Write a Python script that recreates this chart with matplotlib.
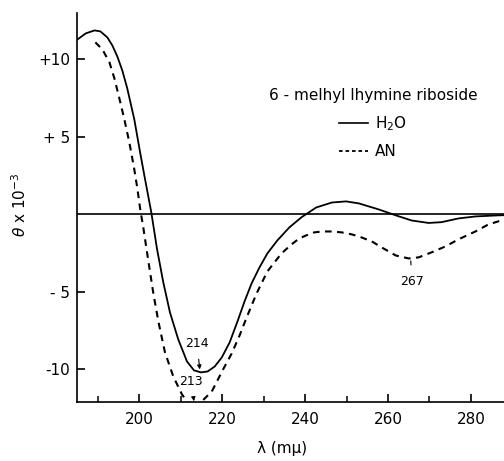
import numpy as np
import matplotlib
matplotlib.use('Agg')
import matplotlib.pyplot as plt
from matplotlib.lines import Line2D

# wavelength (m-mu) and theta x 10^-3
h2o_wl = [185.1, 187.1, 189.2, 190.6, 192.3, 193.5, 194.7, 195.9, 197.1, 198.8,
          200.2, 201.4, 202.9, 204.3, 205.8, 207.4, 209.4, 211.5, 213.2, 214.9,
          216.5, 218.2, 219.9, 221.8, 223.7, 225.4, 227.1, 229.0, 230.9, 233.3,
          236.2, 239.1, 242.7, 246.5, 249.9, 253.0, 257.8, 261.9, 265.7, 269.8,
          272.9, 277.0, 281.1, 286.6, 288.0]
h2o_theta = [11.29, 11.68, 11.87, 11.81, 11.42, 10.90, 10.19, 9.29, 8.13, 6.13,
             4.0, 2.26, 0.13, -2.26, -4.39, -6.32, -8.06, -9.48, -10.06, -10.19,
             -10.13, -9.81, -9.23, -8.26, -6.9, -5.61, -4.45, -3.42, -2.52, -1.68,
             -0.84, -0.19, 0.45, 0.77, 0.84, 0.71, 0.32, -0.06, -0.39, -0.55,
             -0.5, -0.26, -0.13, -0.06, -0.05]

an_wl = [189.4, 191.1, 192.8, 194.0, 195.2, 196.4, 197.6, 198.8, 199.5, 200.2,
         201.0, 202.2, 203.4, 204.6, 206.2, 208.2, 210.3, 211.5, 213.0, 215.3,
         217.5, 220.1, 222.3, 224.2, 225.9, 228.3, 230.9, 234.3, 236.7, 238.6,
         240.3, 242.2, 244.1, 246.5, 248.9, 251.3, 253.0, 256.1, 258.5, 261.9,
         265.0, 267.4, 270.5, 273.9, 277.0, 281.1, 284.2, 286.6, 288.0]
an_theta = [11.1, 10.65, 9.81, 8.77, 7.48, 6.13, 4.65, 2.9, 1.74, 0.39,
            -0.9, -3.03, -5.1, -6.9, -8.9, -10.45, -11.61, -12.06, -12.6, -12.0,
            -11.42, -10.06, -8.97, -7.81, -6.65, -5.1, -3.68, -2.52, -1.94, -1.55,
            -1.35, -1.16, -1.10, -1.10, -1.16, -1.29, -1.42, -1.74, -2.13, -2.65,
            -2.84, -2.77, -2.45, -2.06, -1.61, -1.10, -0.65, -0.45, -0.35]

ytick_vals = [10, 5, -5, -10]
ytick_labels = ['+10', '+ 5', '- 5', '-10']
xtick_vals = [200, 220, 240, 260, 280]
xminor_vals = [190, 210, 230, 250, 270]

plt.rcParams['font.family'] = 'DejaVu Sans'
fig = plt.figure(figsize=(5.04, 4.61), dpi=100)
ax = fig.add_axes([0.153, 0.128, 0.847, 0.844])

ax.axhline(0, color='black', lw=1.2)
ax.plot(h2o_wl, h2o_theta, color='black', lw=1.3, solid_joinstyle='round')
ax.plot(an_wl, an_theta, color='black', lw=1.5, linestyle=(0, (3.2, 2.6)))

ax.set_xlim(185, 288)
ax.set_ylim(-12.1, 13)

for s in ['top', 'right']:
    ax.spines[s].set_visible(False)
for s in ['left', 'bottom']:
    ax.spines[s].set_linewidth(1.2)

ax.set_yticks(ytick_vals)
ax.set_yticklabels(ytick_labels)
ax.set_xticks(xtick_vals)
ax.set_xticks(xminor_vals, minor=True)
ax.tick_params(direction='in', length=6, width=1.2, labelsize=11, pad=5)
ax.tick_params(axis='x', pad=7)
ax.tick_params(which='minor', direction='in', length=4, width=1.1)

# peak annotations
ax.annotate('214', xy=(214.6, -10.0), xytext=(213.9, -8.3), ha='center', va='center',
            fontsize=9, arrowprops=dict(arrowstyle='-|>', lw=0.8, color='black',
                                        shrinkA=5, shrinkB=0, mutation_scale=6))
ax.annotate('213', xy=(213.2, -12.05), xytext=(212.5, -10.8), ha='center', va='center',
            fontsize=9, arrowprops=dict(arrowstyle='-|>', lw=0.8, color='black',
                                        shrinkA=5, shrinkB=0, mutation_scale=6),
            annotation_clip=False)
ax.annotate('267', xy=(265.5, -3.0), xytext=(265.8, -4.3), ha='center', va='center',
            fontsize=9, arrowprops=dict(arrowstyle='-', lw=0.8, color='black',
                                        shrinkA=5, shrinkB=0))

handles = [Line2D([], [], color='black', lw=1.2),
           Line2D([], [], color='black', lw=1.3, linestyle=(0, (2.0, 1.6)))]
leg = ax.legend(handles, ['H$_2$O', 'AN'], title='6 - melhyl lhymine riboside',
                frameon=False, fontsize=11, title_fontsize=11,
                loc='upper center', bbox_to_anchor=(373 / 504, 1 - 80 / 461),
                bbox_transform=fig.transFigure, borderpad=0,
                handlelength=1.9, handletextpad=0.5, labelspacing=0.75)

fig.text(20 / 504, 1 - 205 / 461, r'$\theta$ x 10$^{-3}$', rotation=90,
         ha='center', va='center', fontsize=11)
fig.text(282 / 504, 1 - 448 / 461, 'λ (mμ)', ha='center', va='center',
         fontsize=11)

fig.savefig('out.png', dpi=100)
